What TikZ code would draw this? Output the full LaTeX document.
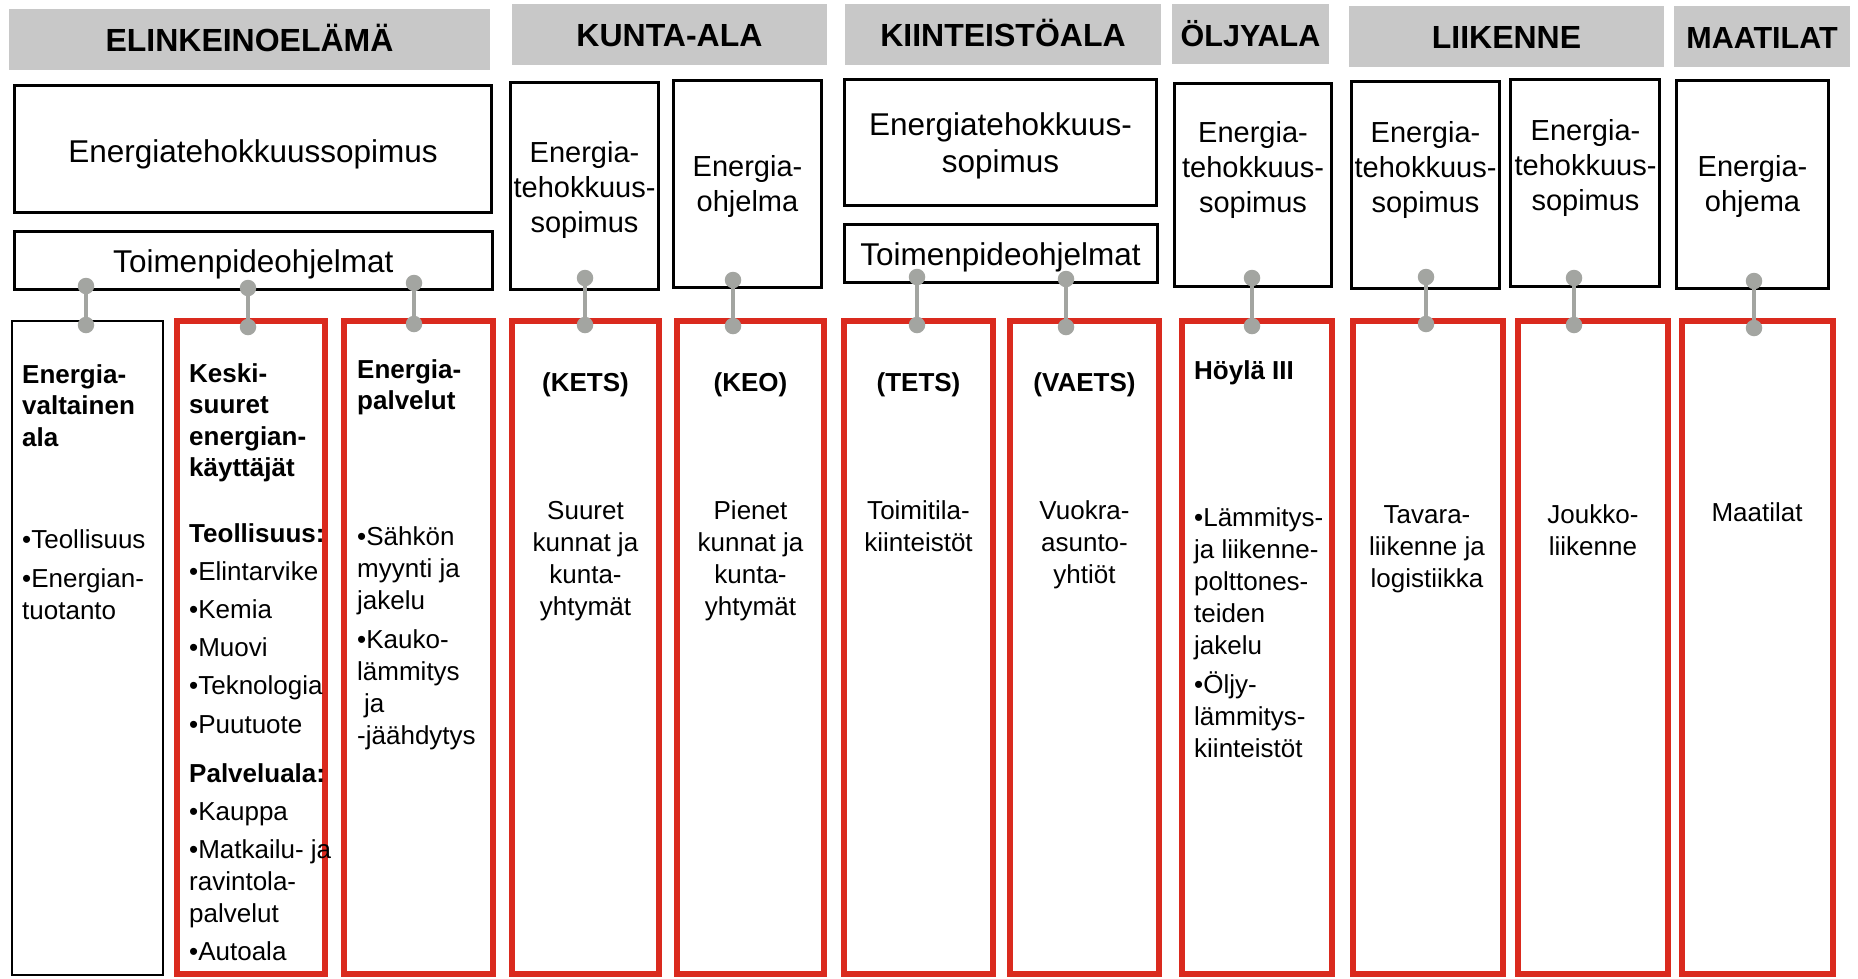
\documentclass[tikz,border=0pt]{standalone}
\usepackage{fontspec}
\setmainfont{Liberation Sans}
\definecolor{hgray}{RGB}{200,200,200}
\definecolor{dgray}{RGB}{163,165,161}
\definecolor{rred}{RGB}{218,42,30}
\newcommand{\mkbox}[6]{\node[#1, minimum width={(#4)-(#3)}, minimum height={(#6)-(#5)}] (#2) at ({((#3)+(#4))/2},{((#5)+(#6))/2}) {};}
\newcommand{\Ltab}[1]{\begin{tabular}[t]{@{}l@{}}#1\end{tabular}}
\newcommand{\Ctab}[1]{\begin{tabular}[t]{@{}c@{}}#1\end{tabular}}
\begin{document}
\begin{tikzpicture}[x=1pt,y=-1pt,
  hdr/.style={fill=hgray, draw=none, inner sep=0, outer sep=0},
  ubox/.style={draw=black, line width=2.6pt, inner sep=0},
  rbox/.style={draw=rred, line width=5.5pt, inner sep=0},
  bbox/.style={draw=black, line width=1.8pt, inner sep=0},
  dotn/.style={circle, fill=dgray, minimum size=16.5pt, inner sep=0},
  conn/.style={draw=dgray, line width=4pt},
  htxt/.style={inner sep=0, anchor=base, font=\bfseries\fontsize{32}{38}\selectfont},
  hstxt/.style={inner sep=0, anchor=base, font=\bfseries\fontsize{30.5}{36}\selectfont},
  bigtxt/.style={inner sep=0, anchor=base, font=\fontsize{31.5}{37.7}\selectfont},
  utxt/.style={inner sep=0, anchor=base, font=\fontsize{29}{35}\selectfont},
  lb/.style={inner sep=0, anchor=base west, font=\bfseries\fontsize{26}{31.5}\selectfont},
  lr/.style={inner sep=0, anchor=base west, font=\fontsize{26}{32}\selectfont},
  cb/.style={inner sep=0, anchor=base, font=\bfseries\fontsize{26}{32}\selectfont},
  cr/.style={inner sep=0, anchor=base, font=\fontsize{26}{32}\selectfont}
]
\useasboundingbox[fill=white] (0,0) rectangle (1858,978);

% headers
\mkbox{hdr}{h1}{9}{490}{9}{70}
\mkbox{hdr}{h2}{512}{827}{4}{65}
\mkbox{hdr}{h3}{845}{1161}{4}{65}
\mkbox{hdr}{h4}{1172}{1329}{4}{64}
\mkbox{hdr}{h5}{1349}{1664}{6}{67}
\mkbox{hdr}{h6}{1674}{1850}{6}{67}
\node[htxt] (h1t) at (249.5,51.5) {ELINKEINOELÄMÄ};
\node[htxt] (h2t) at (669.5,46) {KUNTA-ALA};
\node[htxt] (h3t) at (1003,46) {KIINTEISTÖALA};
\node[hstxt] (h4t) at (1250.5,46) {ÖLJYALA};
\node[htxt] (h5t) at (1506.5,48.3) {LIIKENNE};
\node[hstxt] (h6t) at (1762,48.3) {MAATILAT};

% upper boxes
\mkbox{ubox}{u1}{14.5}{491.5}{85.5}{212.5}
\mkbox{ubox}{u2}{14.5}{492.5}{231.5}{289.5}
\mkbox{ubox}{ua}{510.5}{658.5}{82.5}{289.5}
\mkbox{ubox}{ub}{673.5}{821.5}{80.5}{287.5}
\mkbox{ubox}{uc}{844.5}{1156.5}{79.5}{205.5}
\mkbox{ubox}{ud}{844.5}{1157.5}{224.5}{282.5}
\mkbox{ubox}{ue}{1174.5}{1331.5}{83.5}{286.5}
\mkbox{ubox}{uf}{1351.5}{1499.5}{81.5}{288.5}
\mkbox{ubox}{ug}{1510.5}{1659.5}{79.5}{286.5}
\mkbox{ubox}{uh}{1676.5}{1828.5}{80.5}{288.5}
\node[bigtxt] (u1t) at (253,162.5) {Energiatehokkuussopimus};
\node[bigtxt] (u2t) at (253.3,272.5) {Toimenpideohjelmat};
\node[utxt] (uat) at (584.5,162) {\Ctab{Energia-\\tehokkuus-\\sopimus}};
\node[utxt] (ubt) at (747.5,176.7) {\Ctab{Energia-\\ohjelma}};
\node[bigtxt] (uct) at (1000.5,135) {\Ctab{Energiatehokkuus-\\sopimus}};
\node[bigtxt] (udt) at (1000.5,265) {Toimenpideohjelmat};
\node[utxt] (uet) at (1253,142.7) {\Ctab{Energia-\\tehokkuus-\\sopimus}};
\node[utxt] (uft) at (1425.5,142.7) {\Ctab{Energia-\\tehokkuus-\\sopimus}};
\node[utxt] (ugt) at (1585.5,140) {\Ctab{Energia-\\tehokkuus-\\sopimus}};
\node[utxt] (uht) at (1752.5,176.7) {\Ctab{Energia-\\ohjema}};

% lower boxes
\mkbox{bbox}{l1}{12}{163}{321}{975}
\mkbox{rbox}{l2}{177}{325}{321}{974}
\mkbox{rbox}{l3}{344}{493}{321}{974}
\mkbox{rbox}{l4}{512}{659}{321}{974}
\mkbox{rbox}{l5}{677}{824}{321}{974}
\mkbox{rbox}{l6}{844}{993}{321}{974}
\mkbox{rbox}{l7}{1010}{1159}{321}{974}
\mkbox{rbox}{l8}{1182}{1332}{321}{974}
\mkbox{rbox}{l9}{1353}{1503}{321}{974}
\mkbox{rbox}{l10}{1518}{1668}{321}{974}
\mkbox{rbox}{l11}{1682}{1833}{321}{974}

% connectors
\foreach \i/\x/\ya/\yb in {1/86/286/325, 2/248/288/327, 3/414/283/324, 4/585/278/325, 5/733/280/326, 6/917/277/325, 7/1066/279/327, 8/1252/278/326, 9/1426/277/324, 10/1574/278/325, 11/1754/281/328}{
  \node[dotn] (t\i) at (\x,\ya) {};
  \node[dotn] (b\i) at (\x,\yb) {};
  \draw[conn] (t\i.center) -- (b\i.center);
}

% lower texts
\node[lb] (x1a) at (22,383) {\Ltab{Energia-\\valtainen\\ala}};
\node[lr] (x1b) at (22,548) {\Ltab{•Teollisuus\\[7pt]•Energian-\\tuotanto}};

\node[lb] (x2a) at (189,382) {\Ltab{Keski-\\suuret\\energian-\\käyttäjät}};
\node[lb] (x2b) at (189,542) {Teollisuus:};
\node[lr] (x2c) at (189,580) {\Ltab{•Elintarvike\\[6.3pt]•Kemia\\[6.3pt]•Muovi\\[6.3pt]•Teknologia\\[6.3pt]•Puutuote}};
\node[lb] (x2d) at (189,782) {Palveluala:};
\node[lr] (x2e) at (189,820) {\Ltab{•Kauppa\\[6.5pt]•Matkailu- ja\\ravintola-\\palvelut\\[6pt]•Autoala}};

\node[lb] (x3a) at (357,378) {\Ltab{Energia-\\palvelut}};
\node[lr] (x3b) at (357,545) {\Ltab{•Sähkön\\myynti ja\\jakelu\\[7pt]•Kauko-\\lämmitys\\\hspace*{7pt}ja\\-jäähdytys}};

\node[cb] (x4a) at (585.5,391) {(KETS)};
\node[cr] (x4b) at (585.5,519) {\Ctab{Suuret\\kunnat ja\\kunta-\\yhtymät}};
\node[cb] (x5a) at (750.5,391) {(KEO)};
\node[cr] (x5b) at (750.5,519) {\Ctab{Pienet\\kunnat ja\\kunta-\\yhtymät}};
\node[cb] (x6a) at (918.5,391) {(TETS)};
\node[cr] (x6b) at (918.5,519) {\Ctab{Toimitila-\\kiinteistöt}};
\node[cb] (x7a) at (1084.5,391) {(VAETS)};
\node[cr] (x7b) at (1084.5,519) {\Ctab{Vuokra-\\asunto-\\yhtiöt}};

\node[lb] (x8a) at (1194,379) {Höylä III};
\node[lr] (x8b) at (1194,526) {\Ltab{•Lämmitys-\\ja liikenne-\\polttones-\\teiden\\jakelu\\[7pt]•Öljy-\\lämmitys-\\kiinteistöt}};

\node[cr] (x9) at (1427,523) {\Ctab{Tavara-\\liikenne ja\\logistiikka}};
\node[cr] (x10) at (1593,523) {\Ctab{Joukko-\\liikenne}};
\node[cr] (x11) at (1757,521) {Maatilat};
\end{tikzpicture}
\end{document}
